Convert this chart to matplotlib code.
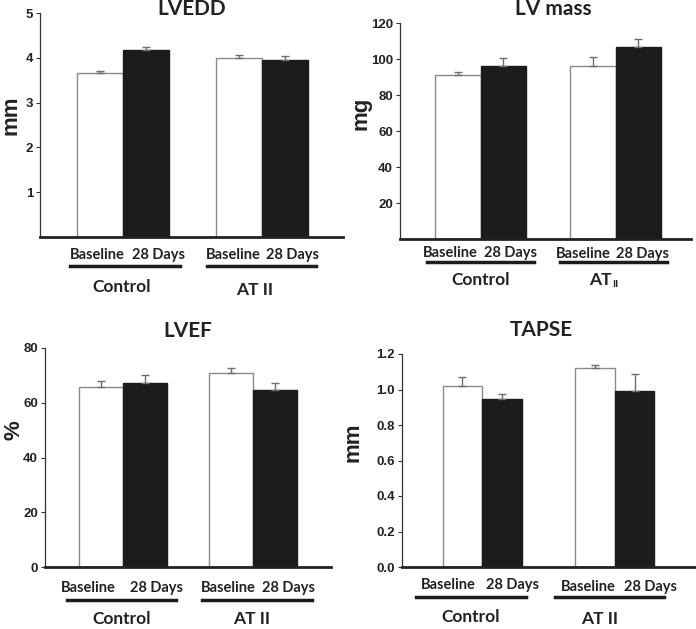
import numpy as np
import matplotlib.pyplot as plt

# values (baseline, 28 days) for Control and AT II
titles = ['LVEDD', 'LV mass', 'LVEF', 'TAPSE']
units = ['mm', 'mg', '%', 'mm']
groups = ['Control', 'AT II']
times = ['Baseline', '28 Days']

lvedd_mean = [3.67, 4.18, 4.00, 3.95]
lvedd_err = [0.03, 0.05, 0.07, 0.09]
lvmass_mean = [91.0, 96.0, 96.3, 106.5]
lvmass_err = [2.0, 4.8, 5.0, 4.8]
lvef_mean = [65.9, 67.3, 70.9, 64.6]
lvef_err = [2.1, 2.7, 1.7, 2.6]
tapse_mean = [1.02, 0.945, 1.12, 0.99]
tapse_err = [0.05, 0.027, 0.017, 0.10]

W, H = 696, 629
fig = plt.figure(figsize=(W / 100, H / 100), dpi=100)

TICKFONT = 'Liberation Sans'
LABFONT = 'Lato'


def fx(x):
    return x / W


def fy(y):
    return 1 - y / H


def add_ax(x0, x1, y0, y1):
    return fig.add_axes([fx(x0), fy(y1), fx(x1) - fx(x0), (y1 - y0) / H])


panels = [
    # axes px box, ylim, yticks, tick fmt, gap between groups (bar widths), title pos, ylabel pos
    dict(box=(40, 343, 13, 237), ylim=5, ticks=[1, 2, 3, 4, 5], fmt='{:g}', gap=1.0,
         xl=(-1.3, 5.26), title=(192, 9), ylab=(11, 115),
         lab=[(97, 158, 255), (233, 293, 255)], line=[(70, 180, 266), (207, 316, 266)],
         grp=[(122, 287), (255, 290)], mean=lvedd_mean, err=lvedd_err),
    dict(box=(400, 691, 23, 239), ylim=120, ticks=[20, 40, 60, 80, 100, 120], fmt='{:g}', gap=0.95,
         xl=(-1.26, 5.1), title=(553, 9), ylab=(361, 113),
         lab=[(450, 510, 253), (583, 643, 254)], line=[(427, 534, 262), (560, 667, 262)],
         grp=[(481, 280), (613, 280)], mean=lvmass_mean, err=lvmass_err),
    dict(box=(45, 331, 348, 567), ylim=80, ticks=[0, 20, 40, 60, 80], fmt='{:g}', gap=0.95,
         xl=(-1.27, 5.22), title=(188, 331), ylab=(14, 430),
         lab=[(88, 157, 588), (228, 288, 588)], line=[(67, 176, 600), (202, 312, 600)],
         grp=[(122, 619), (252, 619)], mean=lvef_mean, err=lvef_err),
    dict(box=(402, 695, 354, 567), ylim=1.2, ticks=[0, 0.2, 0.4, 0.6, 0.8, 1.0, 1.2], fmt='{:.1f}',
         gap=1.33, xl=(-1.52, 5.85), title=(541, 330), ylab=(353, 442),
         lab=[(448, 513, 585), (588, 651, 587)], line=[(416, 526, 597), (555, 664, 597)],
         grp=[(471, 617), (600, 619)], mean=tapse_mean, err=tapse_err),
]

for i, p in enumerate(panels):
    ax = add_ax(*p['box'])
    pos = np.array([0, 1, 2 + p['gap'], 3 + p['gap']])
    cols = ['white', '#1c1c1c', 'white', '#1c1c1c']
    edges = ['#8a8a8a', '#1c1c1c', '#8a8a8a', '#1c1c1c']
    ax.bar(pos, p['mean'], width=1.0, color=cols, edgecolor=edges, linewidth=1.0, zorder=2)
    ax.errorbar(pos, p['mean'], yerr=[np.zeros(4), p['err']], fmt='none', ecolor='#6e6e6e',
                elinewidth=1.0, capsize=3, capthick=1.0, zorder=3)
    ax.set_xlim(*p['xl'])
    ax.set_ylim(0, p['ylim'])
    ax.set_xticks([])
    ax.set_yticks(p['ticks'])
    ax.set_yticklabels([p['fmt'].format(t) for t in p['ticks']], fontfamily=TICKFONT,
                       fontweight='bold', fontsize=9.5, color='#222222')
    ax.tick_params(axis='y', length=3, width=0.8, pad=2, color='#333333')
    for s in ['top', 'right']:
        ax.spines[s].set_visible(False)
    ax.spines['left'].set_linewidth(0.9)
    ax.spines['left'].set_color('#333333')
    ax.spines['bottom'].set_linewidth(2.0)
    ax.spines['bottom'].set_color('#222222')

    tx, ty = p['title']
    fig.text(fx(tx), fy(ty), titles[i], ha='center', va='center', fontfamily=LABFONT,
             fontweight='bold', fontsize=15, color='#222222')
    yx, yy = p['ylab']
    fig.text(fx(yx), fy(yy), units[i], ha='center', va='center', rotation=90,
             fontfamily=TICKFONT, fontweight='bold', fontsize=16, color='#222222')

    for g in range(2):
        bx, dx, ly = p['lab'][g]
        fig.text(fx(bx), fy(ly), times[0], ha='center', va='center', fontfamily=LABFONT,
                 fontweight='bold', fontsize=10.5, color='#222222')
        fig.text(fx(dx), fy(ly), times[1], ha='center', va='center', fontfamily=LABFONT,
                 fontweight='bold', fontsize=10.5, color='#222222')
        l0, l1, lyy = p['line'][g]
        fig.add_artist(plt.Line2D([fx(l0), fx(l1)], [fy(lyy), fy(lyy)], color='#1c1c1c',
                                  linewidth=2.5, transform=fig.transFigure))
        gx, gy = p['grp'][g]
        if i == 1 and g == 1:
            # AT with subscript II
            fig.text(fx(gx - 1), fy(gy), 'AT', ha='right', va='center', fontfamily=LABFONT,
                     fontweight='bold', fontsize=12.5, color='#222222')
            fig.text(fx(gx - 1), fy(gy + 4), 'II', ha='left', va='center', fontfamily=LABFONT,
                     fontweight='bold', fontsize=7.5, color='#222222')
        else:
            fig.text(fx(gx), fy(gy), groups[g], ha='center', va='center', fontfamily=LABFONT,
                     fontweight='bold', fontsize=12.5, color='#222222')

fig.savefig('out.png', dpi=100)
